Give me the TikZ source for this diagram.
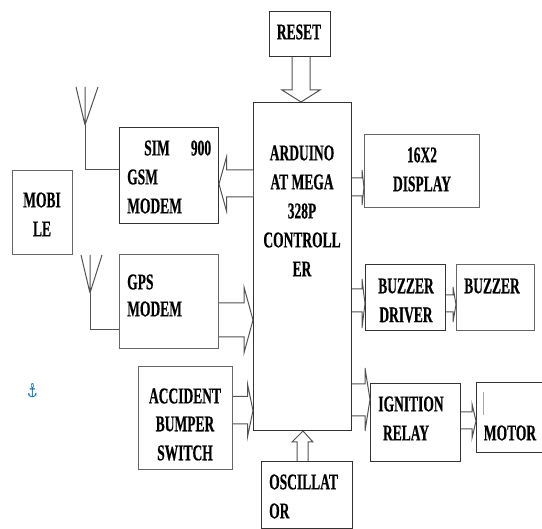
\documentclass[tikz,border=0pt]{standalone}
\usepackage{fontspec}
\setmainfont{Liberation Serif}
\newfontface\labfont[FakeStretch=0.6,FakeBold=0.5]{Liberation Serif Bold}
\newfontfamily\symfont{DejaVu Sans}
\usetikzlibrary{calc}
\definecolor{edge}{gray}{0.2}
\tikzset{
  box/.style={draw=edge,line width=1pt,fill=white,inner sep=0pt},
  softbox/.style={box,draw=edge!75},
  txt/.style={inner sep=0pt,font=\labfont\fontsize{22.5}{22.5}\selectfont,text=black},
  wire/.style={draw=edge!85,line width=1pt},
  barrow/.style={draw=edge!85,line width=1pt,line join=miter},
}
\newcommand{\harrow}[7]{\draw[barrow] (#1 |- 0,#3) -- (#7,#3) -- (#7,#5) -- ($(#2 |- 0,#5)!0.5!(#2 |- 0,#6)$) -- (#7,#6) -- (#7,#4) -- (#1 |- 0,#4);}
\begin{document}
\begin{tikzpicture}[x=1pt,y=-1pt]
\useasboundingbox (0,0) rectangle (542,529);
\node[softbox,minimum width=60pt,minimum height=84pt,anchor=north west] (mobile) at (12,170) {};
\node[box,minimum width=99pt,minimum height=96pt,anchor=north west] (sim) at (119,127) {};
\node[softbox,minimum width=99pt,minimum height=94pt,anchor=north west] (gps) at (119,254) {};
\node[softbox,minimum width=94pt,minimum height=103pt,anchor=north west] (acc) at (138,366) {};
\node[box,minimum width=98pt,minimum height=328pt,anchor=north west] (main) at (253,102) {};
\node[box,minimum width=61pt,minimum height=45pt,anchor=north west] (reset) at (269,11) {};
\node[softbox,minimum width=115pt,minimum height=73pt,anchor=north west] (disp) at (364,134) {};
\node[box,minimum width=80pt,minimum height=66pt,anchor=north west] (drv) at (365,264) {};
\node[softbox,minimum width=78pt,minimum height=66pt,anchor=north west] (buz) at (456,264) {};
\node[box,minimum width=90pt,minimum height=78pt,anchor=north west] (ign) at (370,383) {};
\node[box,minimum width=68pt,minimum height=70pt,anchor=north west] (mot) at (476,382) {};
\node[box,minimum width=91pt,minimum height=67pt,anchor=north west] (osc) at (261,461) {};
% labels
\node[txt] (t1) at (299,32) {RESET};
\node[txt] (t2) at (42,200) {MOBI};
\node[txt] (t3) at (42,229) {LE};
\node[txt] (t4) at (157,148) {SIM};
\node[txt] (t5) at (201,148) {900};
\node[txt,anchor=west] (t6) at (127,177) {GSM};
\node[txt,anchor=west] (t7) at (127,206) {MODEM};
\node[txt,anchor=west] (t8) at (127,282) {GPS};
\node[txt,anchor=west] (t9) at (127,309) {MODEM};
\node[txt] (t10) at (185,396) {ACCIDENT};
\node[txt] (t11) at (185,424) {BUMPER};
\node[txt] (t12) at (185,453) {SWITCH};
\node[txt] (t13) at (302,153) {ARDUINO};
\node[txt] (t14) at (302,182) {AT MEGA};
\node[txt] (t15) at (302,211) {328P};
\node[txt] (t16) at (302,240) {CONTROLL};
\node[txt] (t17) at (302,269) {ER};
\node[txt] (t18) at (422,155) {16X2};
\node[txt] (t19) at (422,184) {DISPLAY};
\node[txt] (t20) at (406,286) {BUZZER};
\node[txt] (t21) at (406,315) {DRIVER};
\node[txt] (t22) at (492,286) {BUZZER};
\node[txt] (t23) at (411,404) {IGNITION};
\node[txt] (t24) at (406,433) {RELAY};
\node[txt] (t25) at (510,433) {MOTOR};
\node[txt,anchor=west] (t26) at (269,482) {OSCILLAT};
\node[txt,anchor=west] (t27) at (269,511) {OR};
\node[inner sep=0pt,text=blue!45!cyan!75!black,font=\symfont\fontsize{19}{19}\selectfont] (anchoricon) at (32.5,391) {\scalebox{0.62}[1]{⚓}};
% antennas
\coordinate (a1base) at (85,125);
\coordinate (a2base) at (90,293);
\draw[wire] (sim.west |- 0,170) -- (85,170) -- (a1base);
\draw[wire] (a1base) -- (76,87) (a1base) -- (85,87) (a1base) -- (98,87);
\draw[wire] (gps.west |- 0,330) -- (90,330) -- (a2base);
\draw[wire] (a2base) -- (81,255) (a2base) -- (90,255) (a2base) -- (102,255);
% block arrows
\harrow{main.west}{sim.east}{170}{197}{157}{211}{226.5}
\draw[barrow] (main.west |- 0,170) -- (main.west |- 0,197);
\harrow{gps.east}{main.west}{303}{337}{287}{353}{244}
\harrow{acc.east}{main.west}{396.5}{424}{384}{437}{247.5}
\harrow{main.east}{disp.west}{178}{196}{170}{205}{362}
\harrow{main.east}{drv.west}{289}{312}{279}{328}{362}
\harrow{drv.east}{buz.west}{295}{312}{287}{322}{453}
\harrow{main.east}{ign.west}{384}{416}{368}{431}{365}
\harrow{ign.east}{mot.west}{412}{429}{404}{438}{472}
% vertical block arrows
\draw[barrow] (292,0 |- reset.south) -- (292,90) -- (282,90) -- (301,0 |- main.north) -- (320,90) -- (310,90) -- (310,0 |- reset.south);
\draw[barrow] (297,0 |- osc.north) -- (297,442) -- (292,442) -- (303,0 |- main.south) -- (313,442) -- (308,442) -- (308,0 |- osc.north);
\draw[draw=gray!70,line width=1pt] (483,392) -- (483,415);
\end{tikzpicture}
\end{document}
